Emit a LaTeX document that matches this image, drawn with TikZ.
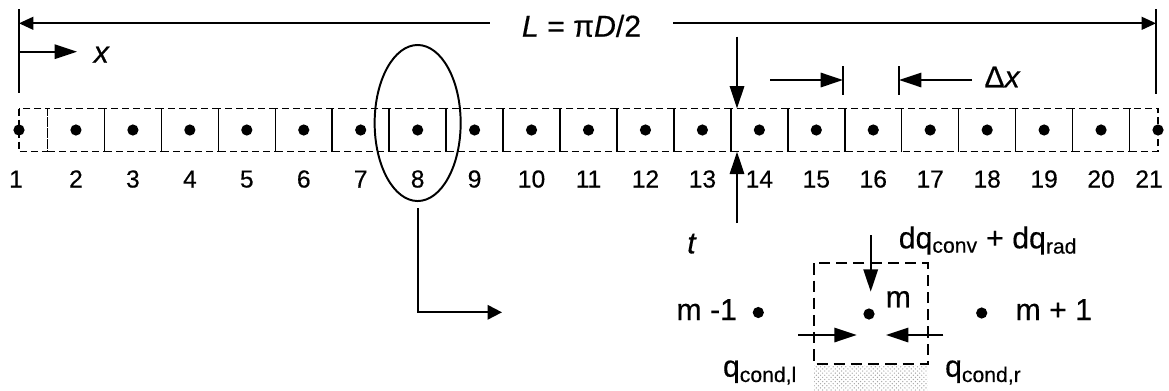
\documentclass[tikz,border=0pt]{standalone}
\usepackage{fontspec}
\setmainfont{Liberation Sans}[FakeBold=0.4]
\usetikzlibrary{arrows.meta,positioning,patterns,shapes.geometric}

\begin{document}
\begin{tikzpicture}[x=0.025cm,y=-0.025cm,
lbl/.style={font=\fontsize{21.5}{25}\selectfont,inner sep=0pt},
num/.style={font=\fontsize{17.5}{20}\selectfont,inner sep=0pt},
pnt/.style={circle,fill,inner sep=0pt,minimum size=0.28cm},
cell/.style={draw,line width=1.05pt,dash pattern=on 0.175cm off 0.1cm},
cvbox/.style={draw,line width=1.2pt,dash pattern=on 0.28cm off 0.15cm},
arr/.style={-{Triangle[length=0.56cm,width=0.36cm]},line width=1.4pt},
dimarr/.style={-{Triangle[length=0.36cm,width=0.32cm]},line width=1.4pt},
leadarr/.style={-{Triangle[length=0.36cm,width=0.36cm]},line width=1.4pt},
bar/.style={line width=1.4pt}]
\useasboundingbox (0,0) rectangle (1169,390);
% strip of control volumes, nodes 1..21
\foreach \i in {1,...,21}{
  \pgfmathsetmacro\xx{19+(\i-1)*56.95}
  \pgfmathsetmacro\xa{max(19,\xx-28.475)}
  \pgfmathsetmacro\xb{min(1158,\xx+28.475)}
  \pgfmathsetmacro\xl{\xx-9*(\i==21)-3*(\i==1)}
  \draw[cell] (\xa,108.5) rectangle (\xb,151.7);
  \node[pnt] (n\i) at (\xx,130) {};
  \node[num,anchor=base] (l\i) at (\xl,187.5) {\i};
}
% overall length
\draw[bar] (19,9) -- (19,93);
\draw[bar] (1156,9) -- (1156,94);
\coordinate (dimL) at (19,23.3);
\coordinate (dimR) at (1156,23.3);
\node[lbl,anchor=base,inner xsep=0.8cm] (len) at (581.5,36.7) {\textit{L} = π\textit{D}/2};
\draw[dimarr] (len.west |- dimL) -- (dimL);
\draw[dimarr] (len.east |- dimR) -- (dimR);
% x direction
\coordinate (x0) at (19,51.7);
\coordinate (x1) at (77,51.7);
\draw[arr] (x0) -- (x1);
\node[lbl,anchor=base] (xlbl) at (101.7,62.7) {\textit{x}};
% t marks
\coordinate (ttop) at (737,36.7);
\coordinate (tin) at (737,108.5);
\coordinate (tbot) at (737,223);
\coordinate (tout) at (737,151.7);
\draw[arr] (ttop) -- (tin);
\draw[arr] (tbot) -- (tout);
\node[lbl,anchor=base] (tlbl) at (692,253.3) {\textit{t}};
% cell width
\draw[bar] (843,66) -- (843,95);
\draw[bar] (899,66) -- (899,95);
\coordinate (dxa) at (770,80);
\coordinate (dxb) at (843,80);
\coordinate (dxc) at (972,80);
\coordinate (dxd) at (899,80);
\draw[arr] (dxa) -- (dxb);
\draw[arr] (dxc) -- (dxd);
\node[lbl,anchor=base] (dxlbl) at (1002.5,87.3) {Δ\textit{x}};
% zoom on node 8
\node[draw,ellipse,line width=1.4pt,minimum width=2.15cm,minimum height=3.9cm,inner sep=0pt] (zoom) at (n8 |- 0,123) {};
\coordinate (lead) at (502,312.3);
\draw[leadarr] ([yshift=-0.16cm]zoom.south) |- (lead);
% control volume m
\fill[pattern=crosshatch dots,pattern color=gray!70] (814,365) rectangle (927.7,390);
\draw[cvbox] (814,263.3) rectangle (927.7,364);
\node[pnt] (mL) at (758.3,312.5) {};
\node[pnt] (mC) at (869,314) {};
\node[pnt] (mR) at (981.7,313) {};
\node[lbl,anchor=base] (mLlbl) at (706.7,320) {m -1};
\node[lbl,anchor=base] (mClbl) at (898.3,307.3) {m};
\node[lbl,anchor=base] (mRlbl) at (1053.8,320) {m + 1};
\coordinate (qtop) at (870.7,235);
\coordinate (qin) at (870.7,291.7);
\draw[arr] (qtop) -- (qin);
\node[lbl,anchor=base] (qcv) at (988,248.3) {dq\textsubscript{conv} + dq\textsubscript{rad}};
\coordinate (cl0) at (798.3,335);
\coordinate (cl1) at (856.7,335);
\coordinate (cr0) at (943.3,335);
\coordinate (cr1) at (886,335);
\draw[arr] (cl0) -- (cl1);
\draw[arr] (cr0) -- (cr1);
\node[lbl,anchor=base] (qcl) at (760,376.7) {q\textsubscript{cond,l}};
\node[lbl,anchor=base] (qcr) at (983.3,376.7) {q\textsubscript{cond,r}};
\end{tikzpicture}
\end{document}
